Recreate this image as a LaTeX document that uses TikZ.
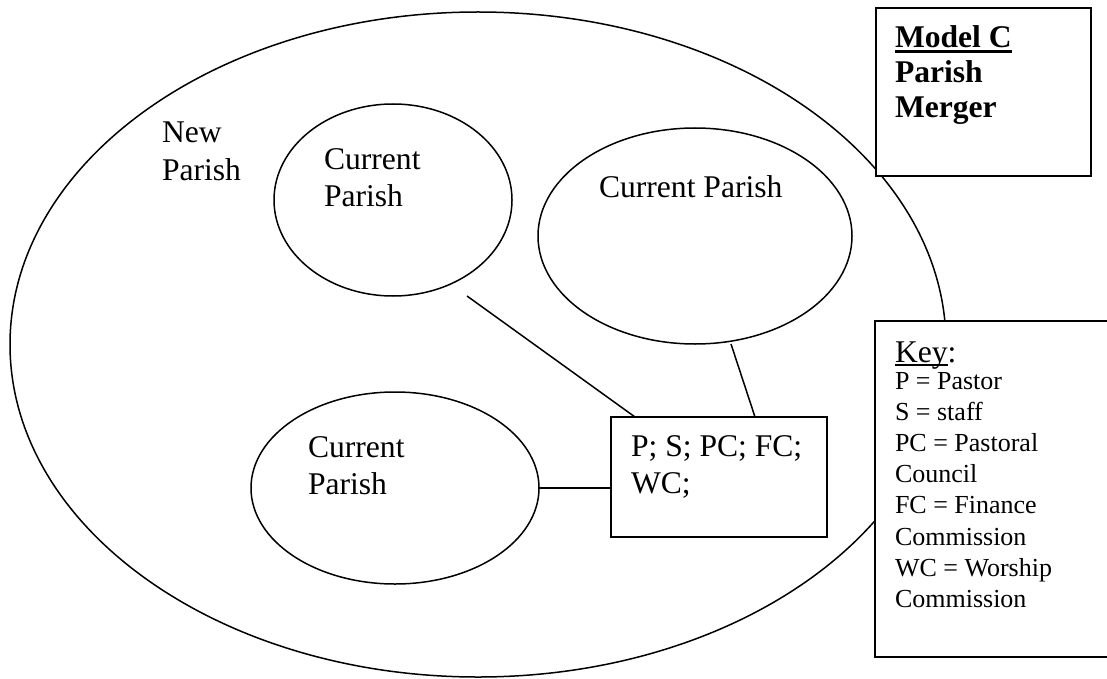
\documentclass[tikz,border=0pt]{standalone}
\usepackage{fontspec}
\setmainfont{Liberation Serif}
\usetikzlibrary{shapes.geometric,calc}
\newcommand\myuline[3]{\setbox0\hbox{#1}\rlap{\rule[-#2]{\wd0}{#3}}\box0}
\tikzset{
  big/.style={font=\fontsize{31.6}{36}\selectfont},
  bigbold/.style={font=\fontsize{31.6}{36}\selectfont\bfseries},
  small/.style={font=\fontsize{26}{31}\selectfont},
  lbl/.style={inner sep=0pt, outer sep=0pt, anchor=base west},
  parish/.style={draw, ellipse, line width=1.5pt, inner sep=0pt, outer sep=0pt},
  box/.style={draw, fill=white, line width=2pt, inner sep=0pt, outer sep=0pt, anchor=north west},
  conn/.style={line width=1.5pt},
}
\begin{document}
\begin{tikzpicture}[x=1pt,y=-1pt]
\useasboundingbox (0,0) rectangle (1107,679);
\clip (0,0) rectangle (1107,679);
% ellipses
\node[parish, minimum width=936pt, minimum height=665pt] (new) at (478,344.5) {};
\node[parish, minimum width=238pt, minimum height=192pt] (e1) at (393,200) {};
\node[parish, minimum width=314pt, minimum height=216pt] (e2) at (695,236) {};
\node[parish, minimum width=288pt, minimum height=192pt] (e3) at (395,488) {};
% boxes
\node[box, minimum width=216pt, minimum height=120pt] (hub) at (611,417) {};
\node[box, minimum width=215pt, minimum height=168pt] (model) at (876,8) {};
\node[box, minimum width=250pt, minimum height=336pt] (key) at (875,321) {};
% connectors
\draw[conn] ($(e1.center)+(74,96)$) -- ($(hub.north west)+(24,0)$);
\draw[conn] ($(e2.center)+(36,108)$) -- ($(hub.north west)+(144,0)$);
\draw[conn] (e3.east) -- (e3.east -| hub.west);
% texts
\node[lbl,big] (np1) at (162,143) {New};
\node[lbl,big] (np2) at (162,180) {Parish};
\node[lbl,big] (e1a) at (324,170) {Current};
\node[lbl,big] (e1b) at (324,206) {Parish};
\node[lbl,big] (e2a) at (599,197) {Current Parish};
\node[lbl,big] (e3a) at (308,457) {Current};
\node[lbl,big] (e3b) at (308,494) {Parish};
\node[lbl,big] (h1) at (631,456) {P; S; PC; FC;};
\node[lbl,big] (h2) at (631,493) {WC;};
\node[lbl,bigbold] (m1) at (895,48) {\myuline{Model C}{5.5pt}{3pt}};
\node[lbl,bigbold] (m2) at (895,83) {Parish};
\node[lbl,bigbold] (m3) at (895,118) {Merger};
\node[lbl,big] (k0) at (895,362) {\myuline{Key}{3.5pt}{2pt}:};
\node[lbl,small] (k1) at (895,389.5) {P = Pastor};
\node[lbl,small] (k2) at (895,420.6) {S = staff};
\node[lbl,small] (k3) at (895,451.7) {PC = Pastoral};
\node[lbl,small] (k4) at (895,482.8) {Council};
\node[lbl,small] (k5) at (895,513.9) {FC = Finance};
\node[lbl,small] (k6) at (895,545.0) {Commission};
\node[lbl,small] (k7) at (895,576.1) {WC = Worship};
\node[lbl,small] (k8) at (895,607.2) {Commission};
\end{tikzpicture}
\end{document}
